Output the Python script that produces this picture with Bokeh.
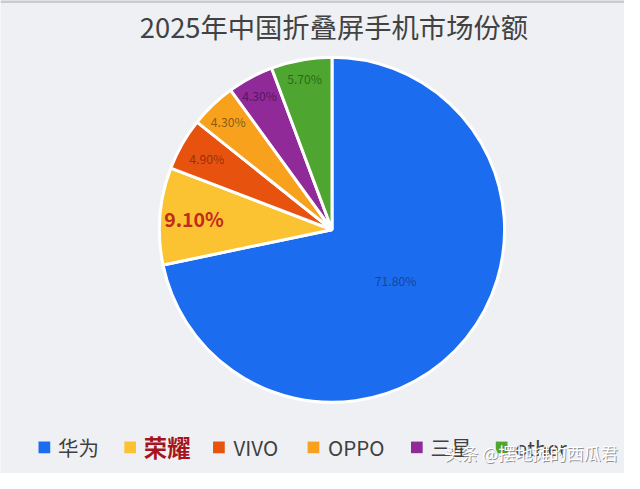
import math
from bokeh.plotting import figure
from bokeh.models import Range1d, ColumnDataSource
from bokeh.core.properties import value
from bokeh.embed import file_html
from bokeh.resources import INLINE

# ---- data ----
title_text = "2025年中国折叠屏手机市场份额"
brands = ["华为", "荣耀", "VIVO", "OPPO", "三星", "other"]
shares = [71.8, 9.1, 4.9, 4.3, 4.3, 5.7]
colors = ["#1b6cef", "#fbc331", "#e8520f", "#f7a11d", "#8f2a98", "#4ea52f"]
watermark = "头条 @摆地摊的西瓜君"

FONT = "Noto Sans CJK SC"
W, H = 624, 473
RW, RH = 640, 489          # reference frame
S = W / RW

def fs(px):
    return "%.1fpx" % (px * S)

p = figure(width=W, height=H, output_backend="svg", toolbar_location=None,
           x_range=Range1d(0, RW), y_range=Range1d(0, RH),
           min_border=0)
p.axis.visible = False
p.grid.visible = False
p.outline_line_color = None
p.background_fill_color = "#eef0f4"
p.border_fill_color = "#eef0f4"

def Y(yref):
    return RH - yref

# top card edge
p.line([0, RW], [Y(1), Y(1)], line_color="#c9cbcf", line_width=3)

# ---- pie ----
cx, cy, R = 340, Y(237), 177
total = sum(shares)
starts, ends, mids = [], [], []
cum = 0.0
for s in shares:
    a0 = cum / total * 2 * math.pi
    cum += s
    a1 = cum / total * 2 * math.pi
    starts.append(math.pi / 2 - a1)
    ends.append(math.pi / 2 - a0)
    mids.append((a0 + a1) / 2)

src = ColumnDataSource(dict(start=starts, end=ends, color=colors))
p.wedge(x=cx, y=cy, radius=R, start_angle="start", end_angle="end",
        fill_color="color", line_color="white", line_width=3, source=src)

# ---- slice labels ----
label_r = [84, 142, 148, 154, 157, 158]
lx = [cx + r * math.sin(m) for r, m in zip(label_r, mids)]
ly = [cy + r * math.cos(m) for r, m in zip(label_r, mids)]
labels = ["%.2f%%" % s for s in shares]

small_idx = [0, 2, 3, 4, 5]
small_colors = ["#1a3a78", "#7a2a0a", "#6a4a10", "#4a1050", "#1f5a12"]
p.text(x=[lx[i] for i in small_idx], y=[ly[i] for i in small_idx],
       text=[labels[i] for i in small_idx], text_color=small_colors,
       text_alpha=0.8, text_font=value(FONT), text_font_size=fs(12.5),
       text_align="center", text_baseline="middle")
p.text(x=[lx[1]], y=[ly[1]], text=[labels[1]], text_color="#c22a1c",
       text_font=value(FONT), text_font_size=fs(20), text_font_style="bold",
       text_align="center", text_baseline="middle")

# ---- title ----
p.text(x=[342], y=[Y(26)], text=[title_text], text_color="#424242",
       text_font=value(FONT), text_font_size=fs(28),
       text_align="center", text_baseline="middle")

# ---- legend (manual) ----
sq_left = [39, 127, 218, 315, 421, 508]
txt_left = [59, 147, 239, 336, 441, 528]
ly_leg = Y(462)
p.rect(x=[s + 6 for s in sq_left], y=[ly_leg] * 6, width=12, height=12,
       fill_color=colors, line_color=None)
for i, b in enumerate(brands):
    if i == 1:
        p.text(x=[txt_left[i]], y=[ly_leg], text=[b], text_color="#a8141c",
               text_font=value(FONT), text_font_size=fs(24),
               text_font_style="bold", text_align="left",
               text_baseline="middle")
    else:
        p.text(x=[txt_left[i]], y=[ly_leg], text=[b], text_color="#404040",
               text_font=value(FONT), text_font_size=fs(21),
               text_align="left", text_baseline="middle")

# ---- watermark ----
p.text(x=[455], y=[Y(467)], text=[watermark], text_color="#555555",
       text_alpha=0.6, text_font=value(FONT), text_font_size=fs(17.5),
       text_align="left", text_baseline="middle", x_offset=1, y_offset=1)
p.text(x=[455], y=[Y(467)], text=[watermark], text_color="white",
       text_font=value(FONT), text_font_size=fs(17.5),
       text_align="left", text_baseline="middle")

open("out.html", "w").write(file_html(p, INLINE))
